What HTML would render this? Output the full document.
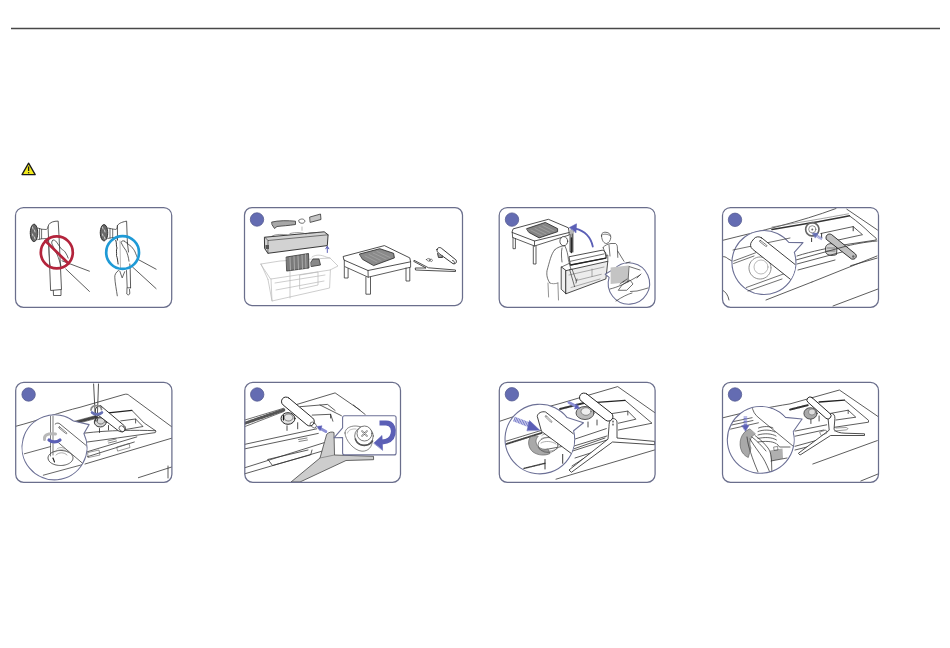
<!DOCTYPE html>
<html><head><meta charset="utf-8">
<style>
html,body{margin:0;padding:0;background:#fff;width:950px;height:648px;overflow:hidden;font-family:"Liberation Sans",sans-serif;}
svg{position:absolute;left:0;top:0;display:block}
</style></head>
<body>
<svg width="950" height="648" viewBox="0 0 950 648">
<defs>
<clipPath id="c1"><rect x="15.5" y="207.5" width="156.2" height="99.8" rx="8"/></clipPath>
<clipPath id="c2"><rect x="244.5" y="207.5" width="218" height="98" rx="7.5"/></clipPath>
<clipPath id="c3"><rect x="499.2" y="207.5" width="155.8" height="99.8" rx="8"/></clipPath>
<clipPath id="c4"><rect x="722.5" y="207.5" width="156" height="99.8" rx="8"/></clipPath>
<clipPath id="c5"><rect x="15.7" y="382.4" width="156.2" height="99.9" rx="8"/></clipPath>
<clipPath id="c6"><rect x="244.8" y="382.4" width="155.7" height="99.9" rx="8"/></clipPath>
<clipPath id="c7"><rect x="499.3" y="382.4" width="155.8" height="99.9" rx="8"/></clipPath>
<clipPath id="c8"><rect x="722.5" y="382.4" width="156" height="99.9" rx="8"/></clipPath>
<clipPath id="m4"><circle cx="764" cy="262.6" r="31.5"/></clipPath>
<clipPath id="m5"><circle cx="54.6" cy="447.5" r="32"/></clipPath>
<clipPath id="m7"><circle cx="539.9" cy="439.2" r="34.3"/></clipPath>
<clipPath id="m8"><circle cx="760.7" cy="439.9" r="32.9"/></clipPath>
</defs>
<!-- header rule -->
<line x1="11" y1="28.5" x2="940" y2="28.5" stroke="#484848" stroke-width="1.45"/>
<!-- warning icon -->
<g>
<path d="M28.6 163.2 L35.2 174.6 L22 174.6 Z" fill="#f2ea1c" stroke="#1a1a1a" stroke-width="1.3" stroke-linejoin="round"/>
<line x1="28.6" y1="166.5" x2="28.6" y2="171" stroke="#1a1a1a" stroke-width="1.3"/>
<line x1="28.6" y1="172.1" x2="28.6" y2="173.3" stroke="#1a1a1a" stroke-width="1.3"/>
</g>

<!-- ILLUSTRATIONS -->
<g id="ill" fill="none" stroke="#333" stroke-width="0.8" stroke-linecap="round" stroke-linejoin="round">
<!-- BOX 1 -->
<g clip-path="url(#c1)">
 <!-- left figure -->
 <path d="M48.1 226.5 C48.5 223.5 51 222 55 221.3 L58.2 221.1 L59 235.7 L61.5 289.5 L50.6 290.5 L48.6 240 Z" fill="#fff"/>
 <path d="M53.3 290.5 L53.5 295.5 L61 295.5 L61 290"/>
 <ellipse cx="34" cy="232.9" rx="3.7" ry="8.7" fill="#6a6a6a" stroke="#222" stroke-width="0.9" stroke-dasharray="1.3 0.5"/>
 <path d="M32.5 227 L33 229 M34.5 230 L35 232 M32.5 234 L33 236 M34.5 237 L35 239" stroke="#ddd" stroke-width="0.9"/>
 <path d="M37.7 228 L41.6 229.2 L41.6 238.8 L37.7 239.6 M39.6 228.5 L39.6 239.2" stroke-width="0.7"/>
 <path d="M41.6 229.2 L46 229.5 C47 229.5 48 228 48.1 226.8 M41.6 238.8 L46 238.5 C47 238.5 48 239.5 48.6 240.5" stroke-width="0.7"/>
 <path d="M48.1 238.8 C49 245 48.5 252 49.5 258 C49 262 50.5 265 50.5 266" stroke="#555" stroke-width="0.7"/>
 <path d="M52.8 240.2 C51.5 241 51.5 243 52 244 C54 248 55.5 252 57.4 255 C58.5 258 60 262 61 266 M52.8 240.2 C54 239.5 55.5 240.5 56.5 242 L61.3 248.9 C63 250 64.5 251 65.1 252 C66.5 254 67.5 256 68.2 258.1" stroke-width="0.75"/>
 <path d="M62 260.8 L89.4 271.2 M65.8 269 L89.4 291.4"/>
 <circle cx="56.8" cy="252.4" r="16" stroke="#b3243c" stroke-width="2.7"/>
 <line x1="45.5" y1="241" x2="68.5" y2="263.5" stroke="#b3243c" stroke-width="2.7"/>
 <!-- right figure -->
 <path d="M117.4 225.7 C118.5 223.5 121 222.3 126.6 221.1 L127.4 242.7"/>
 <path d="M117.4 225.7 L117.5 240"/>
 <ellipse cx="104" cy="232.7" rx="3.7" ry="8.1" fill="#6a6a6a" stroke="#222" stroke-width="0.9" stroke-dasharray="1.3 0.5"/>
 <path d="M102.5 227 L103 229 M104.5 230 L105 232 M102.5 234 L103 236 M104.5 237 L105 239" stroke="#ddd" stroke-width="0.9"/>
 <path d="M107.7 228 L112.7 229 L112.7 237.5 L107.7 238.5 M110 228.5 L110 238" stroke-width="0.7"/>
 <path d="M112.7 229 L116 229.5 C117 229.3 117.3 227 117.4 226 M112.7 237.5 L116 237.5 C117 238 117.3 239 117.5 240" stroke-width="0.7"/>
 <path d="M115.8 240.4 C117 243 115.8 245.5 117 248 C115.8 250.5 117 253 116.5 255.5 C117.5 258 117.8 262 118.1 264" stroke="#222" stroke-width="0.9"/>
 <path d="M120 241 L120.5 268" stroke="#888" stroke-width="0.6"/>
 <path d="M127.4 242.7 L128.5 252 M129.8 264 L130.2 269.3 L130.6 287.8"/>
 <path d="M124.3 241.1 C122.5 240 121 241.5 121.2 242.7 C122.5 245.5 124 248 125.9 250.4 C127.3 253 128.5 257 129 261.2 M124.3 241.1 L131.3 246.5 C133 248.5 134.5 250.5 135.1 252 C136 254.5 137 256.5 138 259.4" stroke-width="0.75"/>
 <path d="M138 259.4 L156.1 269.2 M132.5 267 L156.1 288.6"/>
 <path d="M118.5 270.5 C116 272 114.5 275 114.8 277.3 C115 283 116.5 290 117.3 295.8 M119.8 271.1 L122.2 277.9 L124.7 271.7" stroke-width="0.75"/>
 <path d="M126.5 270.5 L127.2 287.8 L130.6 287.8 M127 288 L126.8 294 C128 295.5 129.8 295 129.8 293 L129.5 289.5" stroke-width="0.75"/>
 <circle cx="122.6" cy="252.5" r="16.4" stroke="#1f9ad6" stroke-width="2.7"/>
</g>
<!-- BOX 2 -->
<g clip-path="url(#c2)">
 <!-- carton (light) -->
 <g stroke="#b8b8b8" stroke-width="0.7">
  <path d="M261 264 L280 261 L330 258 L338 266 L330 270 L271 279 Z"/>
  <path d="M261 264 L268 279.5 M271 279 L272 301 L329.6 288 L330.4 270"/>
  <path d="M268 279.5 L272 301"/>
  <path d="M275 283 L325 275 M276 290 L324 281 M290 270 L290 298 M300 275 L318 272 L318 285 L300 289 Z"/>
  <path d="M312 257 C316 254 322 255 326 257 L330 258"/>
 </g>
 <!-- dark panels in carton -->
 <path d="M286.5 257 L308.5 253.5 L309 268 L287 271 Z" fill="#7a7a7a" stroke="#333"/>
 <path d="M290 257.5 L290.5 270 M294 256.5 L294.5 269.8 M298 256 L298.5 269.3 M302 255 L302.5 268.8 M305.5 254.5 L306 268.5" stroke="#ccc" stroke-width="0.6"/>
 <path d="M311 262 L313 259 L319 259 L320.5 265 L311.5 266.5 Z" fill="#888" stroke="#333"/>
 <!-- foam block -->
 <path d="M264.8 237.2 L324.2 231.8 L328.1 234.8 L327.3 245.6 L267.9 253.3 L264.8 248.7 Z" fill="#d2d2d2" stroke="#222" stroke-width="0.9"/>
 <path d="M264.8 237.2 L268 240.5 L328.1 234.8 M268 240.5 L267.9 253.3" stroke="#444" stroke-width="0.7"/>
 <path d="M272 236 C276 234 282 234 287 235 M290 233.5 C296 232 303 232.5 306 234 M309 233 L318 232.5" stroke="#555" stroke-width="0.6"/>
 <rect x="265.5" y="245" width="3.5" height="4" fill="#555" stroke="none"/>
 <!-- parts -->
 <path d="M272 222 C278 220.5 288 220.3 295.5 221.2 L295.5 224.5 C289 225.5 282 226 277 226.5 L274.5 228.5 L272.2 225 Z" fill="#a8a8a8" stroke="#333"/>
 <path d="M299 220 C301 218.5 304 218.5 305 221 C304.5 223.5 301.5 224 299.5 222.5 Z" fill="#fff" stroke="#333" stroke-width="0.7"/>
 <path d="M310 217 L320.5 214 L321 219.5 L310.5 222.3 Z" fill="#c4c4c4" stroke="#333"/>
 <path d="M302 227 L302 230.3" stroke="#aaa" stroke-width="0.8"/>
 <path d="M327.3 247 L327.3 252.5" stroke="#5b5fb6" stroke-width="1"/>
 <path d="M325.8 248.8 L327.3 246.2 L328.8 248.8" stroke="#5b5fb6" stroke-width="1"/>
 <!-- table -->
 <path d="M343.5 256.4 L384.4 245.6 L409.8 257.9 L410.6 261.8 L368 270.5 L344.3 260.2 Z" fill="#fff" stroke="#222" stroke-width="0.8"/>
 <path d="M344.3 260.2 L344.3 266.4 L368.2 277.2 L410.6 267.2 L410.6 261.8 M368 270.5 L368.2 277.2"/>
 <path d="M344.3 267 L344.3 278 L348.1 278 L348.1 268.5 M365.9 277 L365.9 294.2 L370.5 294.2 L370.5 277 M406 268 L406 281 L409.8 281 L409.8 267.5"/>
 <path d="M359.7 254 L379.8 248.7 L393.6 253.3 L394.4 257.9 L373.6 265.6 L362.8 259.5 Z" fill="#8a8a8a" stroke="#222" stroke-width="0.8"/>
 <path d="M365 256 L377 262 M369 254.5 L381 260.5 M373 253 L386 259 M377 251.5 L390 257.5" stroke="#aaa" stroke-width="0.7"/>
 <!-- stand parts -->
 <path d="M437 249.5 C437.5 247.3 440 247 441.5 248.3 L455.8 259.8 C457.3 261.5 456 264.5 453 263.7 L439 253.5 C437.5 252.5 436.7 251 437 249.5 Z" fill="#fff" stroke="#222" stroke-width="0.9"/>
 <path d="M452.5 260.5 C453.8 260.5 455 262 454.3 263.2" stroke="#222"/>
 <path d="M437.5 253.5 L438.5 257.5 L442.5 257.5 L442 255.5" fill="#999" stroke="#222"/>
 <path d="M426.5 259.5 C428 257.8 430 258.2 430.5 260 C429.8 261.8 427.7 261.8 426.5 259.5 Z M429.5 260 C430.5 258.5 432.3 259 432.5 260.5 C432 262 430.5 262 429.5 260 Z" stroke="#333" stroke-width="0.6"/>
 <path d="M414.5 260.5 L428.5 267.8 L455.5 270 L455.5 271.5 L428 270.5 L415.5 270 L415.2 268 L426 268 L414 261.5 Z" fill="#fff" stroke="#222" stroke-width="0.8"/>
</g>
<!-- BOX 3 -->
<g clip-path="url(#c3)">
 <!-- table -->
 <path d="M513.5 228.8 L548.4 219.3 L568.4 227.8 L569.2 232.5 L534.5 241 L512.3 232.5 Z" fill="#fff" stroke="#222"/>
 <path d="M512.3 232.5 L512.6 237.5 L534.5 246 L569.2 235 L569.2 232.5 M534.5 241 L534.5 246"/>
 <path d="M513 237.5 L513 248.7 L515.4 248.7 L515.4 238.5 M533.3 246 L533.3 264 L536 264 L536 246 M570 234.5 L570 251.8 L572.3 251.8 L572.3 234"/>
 <path d="M526.8 228.6 L545.3 222.4 L557.6 228.6 L557.6 231.7 L539.1 237.9 L529.1 232.5 Z" fill="#858585" stroke="#222"/>
 <path d="M531 230 L542 235.5 M535 228.5 L546 234 M539 227 L550 232.5 M543 225.5 L554 231" stroke="#aaa" stroke-width="0.7"/>
 <!-- carried monitor -->
 <path d="M561.5 267 L566.1 270.6 L566.1 293.7 L561.5 289.5 Z" fill="#f0f0f0" stroke="#222" stroke-width="0.8"/>
 <path d="M566.1 270.6 L607.8 261.3 L605.9 278.9 L566.1 293.7 Z" fill="#ececec" stroke="#222" stroke-width="0.8"/>
 <path d="M561.5 267 L569 263.5 L607.8 255 L607.8 261.3" stroke-width="0.7"/>
 <path d="M569.4 256.7 L602.2 250.2 C604.5 250.5 606 252.5 605.9 254 L605.9 258.1 L570.7 265 Z" fill="#fff" stroke="#222" stroke-width="0.8"/>
 <path d="M570.3 261.3 L604.1 253.9" stroke-width="0.7"/>
 <path d="M570.7 265 L605.9 258.1" stroke="#222" stroke-width="1.3"/>
 <path d="M575.4 280.7 L601.3 274.3 M571 287.5 L600 279 M569 275 L604 267 M592 269 L592 276.5" stroke="#777" stroke-width="0.6"/>
 <path d="M576 283 L577 279" stroke="#444" stroke-width="0.8"/>
 <!-- person left (back) -->
 <ellipse cx="563.8" cy="241.2" rx="3.9" ry="4.6" fill="#fff"/>
 <path d="M554.8 249.7 C551 254 549.5 262 547 270.7 C546.5 275 547 279 549.9 283 M554.8 249.7 C557 247.5 561 246.2 564.7 245.5 C567 250 568 255 568.4 259.6 L570.9 269.4 M562 248 C561 252 561.5 258 562 262" stroke-width="0.7"/>
 <path d="M548 283 L548.6 297 M557.9 283 L558.5 300 M549.9 283 C552 284 555 284 557.9 283" stroke-width="0.7" stroke="#666"/>
 <path d="M569.6 269.4 L574.6 286.7 M572 269 L576 280" stroke-width="0.7"/>
 <path d="M571.5 238 L571.5 252.5" stroke="#222" stroke-width="1.5"/>
 <!-- person right (front) -->
 <path d="M601.5 236 C601 233 603.5 232 606 232.3 C609 232.5 611 234.5 610.8 237.5 C610.5 240.5 609 243 606.5 243.5 C604 243.5 602 241 601.5 236 Z" fill="#fff" stroke-width="0.7"/>
 <path d="M602 235 C604 233.5 608 234 610.5 236" stroke-width="0.6"/>
 <path d="M603.1 247.4 C605 245 608 244 611 243.5 L615.5 243.5 C617 244.5 617.4 246 617.4 248.1 L617.8 257.4 M617.8 251.2 L624 261.3 M603.1 247.4 L606.6 257.4 M609 245 L610 256" stroke-width="0.7"/>
 <!-- blue arrow -->
 <path d="M592.8 246.5 C591 238 585 231 575.5 228.6" stroke="#5b5fb6" stroke-width="1.8"/>
 <path d="M569.5 227.5 L576.5 223.8 L576 232.5 Z" fill="#5b5fb6" stroke="#5b5fb6" stroke-width="0.6"/>
 <path d="M571 230 L571 252 M573 231 L573 252" stroke="#333" stroke-width="0.7"/>
 <!-- magnifier -->
 <path d="M614.5 268.6 A20.7 20.7 0 1 1 609.1 277.4 L605.2 274.3 Z" fill="#fff" stroke="#6c7096" stroke-width="1.1"/>
 <path d="M610.6 267.5 L628.5 265.5 L628.1 282.3 L610.6 284 Z" fill="#c4c4c4" stroke="none"/>
 <path d="M629 266.5 L640 270 M626 263 L630 262 M629 267 L628 282 M610 289 C618 287 625 284 640 275 M616 301 C622 297 628 294 632 293 M618.5 290 L622 285 L630 280 L633 284 L627 290 Z M620 284 L624 281 M623 282 L627 279 M630.5 291.5 L637 291 C641 290 645 289 648 288 M637 278 L641 274" stroke="#333" stroke-width="0.7"/>
</g>
<!-- BOX 4 -->
<g clip-path="url(#c4)">
 <!-- monitor outer -->
 <path d="M722 240.5 C760 231 800 222 836 208.5"/>
 <path d="M846.8 209.2 L877.5 230"/>
 <!-- inner panel double line -->
 <path d="M772 229.5 L800 224.7 C820 221.5 835 218.5 849.4 215.8" stroke="#333" stroke-width="1.5"/>
 <path d="M772 227 L800 222.3 C820 219 835 216.2 848.5 213.8" stroke="#666" stroke-width="0.6"/>
 <path d="M722 257 C724 256 726 257 727.8 258.6 L733.6 262"/>
 <path d="M849.4 215.8 C858 222 865 228 870 233.1 L876.2 238.3 L876.2 240 L843 245 C830 248 812 251 797 256"/>
 <!-- mount pocket -->
 <path d="M820.8 233.5 L853.2 226.6 L862.5 234.7 L836 240.5"/>
 <path d="M853.2 226.6 L853.2 230.8 M821.6 233.5 L821.6 237.5 M811.6 238.2 L811.6 241.6" stroke="#222" stroke-width="0.9"/>
 <!-- mount circle -->
 <circle cx="812.3" cy="229.3" r="6.6" stroke="#666" stroke-width="1.7" stroke-dasharray="1 0.55"/>
 <circle cx="812.3" cy="229.3" r="3.6" stroke="#666" stroke-width="0.7"/>
 <circle cx="812.3" cy="229.5" r="1" fill="#666" stroke="none"/>
 <!-- blue arrow -->
 <path d="M822 239 L815.5 235" stroke="#8d92d0" stroke-width="3" stroke-dasharray="0.9 0.4" stroke-linecap="butt"/>
 <path d="M812.3 233.3 L818 233.1 L815.3 237.8 Z" fill="#6670b4" stroke="#6670b4" stroke-width="0.5"/>
 <!-- stand mount base -->
 <path d="M825.5 247.5 C826 244 830 243 833 244 L837 248 L836.5 254.5 C833 256 828 256 826 253 Z" fill="#d0d0d0" stroke="#222"/><path d="M827 248 L835 248 M827 251 L835 251" stroke="#444" stroke-width="0.6"/>
 <!-- gray neck -->
 <path d="M826 237.5 C826 234.5 829 233.3 831.5 234.5 L855.5 254 C857.5 256.5 855.5 260 851.5 259 L826.5 239.5 Z" fill="#c0c0c0" stroke="#222" stroke-width="0.9"/>
 <circle cx="853.3" cy="256.5" r="1.2" fill="#666" stroke="none"/>
 <!-- lower monitor lines -->
 <path d="M796 260 L843 247 C852 244.5 865 242 877 241 M797 264 L842 252 M798 270 L835 260 M812 282 L877 256 M850.6 265.7 L877.1 258.1 M833 306 L878 289 M766 300 L812 282"/>
 <!-- magnifier -->
 <path d="M794.3 252.4 A32.0 32.0 0 1 1 788.9 242.5 L803.0 242.6 Z" fill="#fff" stroke="#6c7096" stroke-width="1.1"/>
 <g stroke-width="0.7">
  <path d="M733 250 L790 238 M733.6 261 L755.6 252.8 M733.6 263.5 L754 256 M746.3 287.5 L784.5 273.6 M748 291 L782 279"/>
  <circle cx="760" cy="268" r="11" stroke="#555" stroke-dasharray="1.2 0.9"/>
  <circle cx="761" cy="267" r="7" stroke="#777" stroke-width="0.5"/>
  <g clip-path="url(#m4)"><rect x="752" y="235.4" width="60" height="14.5" rx="5.5" transform="rotate(38.5 756 242.6)" fill="#fff" stroke="#222" stroke-width="0.8"/></g>
  <path d="M760.5 240.5 L766.5 245 C767.5 246 766.5 247 765.5 246.2 L759.8 241.8 C759 241 759.7 240 760.5 240.5 Z" stroke="#333" stroke-width="0.6"/>
 </g>
 <path d="M722 289.8 C726 292 728 295 729 300"/>
</g>
</g>

<g fill="none" stroke="#333" stroke-width="0.8" stroke-linecap="round" stroke-linejoin="round">
<!-- BOX 5 -->
<g clip-path="url(#c5)">
 <!-- outer monitor -->
 <path d="M15 426.5 C40 420 60 412 80 407.3 L124 394.5 C126.5 393.8 128 394.2 129.4 395.6 L172 427"/>
 <!-- hatched band -->
 <path d="M70 422.5 L96 415.5 M70 425.5 L96 418.5" stroke-width="0.6"/>
 <path d="M70 424 L96 417" stroke="#444" stroke-width="2.6" stroke-dasharray="0.9 1"/>
 <!-- panel -->
 <path d="M108.4 412.8 L131.9 410.4" stroke="#222" stroke-width="1.3"/>
 <path d="M131.9 410.4 L144.2 423 L156 431 L155.3 432.6 C130 436 105 440 80 443"/>
 <path d="M83.7 433.2 C110 430 135 430 155.3 430.7"/>
 <path d="M120.7 420.9 L135.6 419 L143 426.5 L125.5 429.5 M135.6 419 L135.6 423"/>
 <path d="M87.4 451.7 L136.8 436.9 M87.4 456.7 L134.3 442 M85 464 L172 438.1 M138.4 477.7 L172 466.9 M168 466 L168 478"/>
 <path d="M88 452.5 L99 450 L100 455 L88.5 457.5 Z M117 447 L129 443.5 L130 447.5 L118 451 Z" stroke="#555" stroke-width="0.6"/>
 <path d="M108 441 L116 439 M108.5 443 L116.5 441" stroke-width="0.6"/>
 <path d="M99.5 428.5 L99.5 432.5 M108.5 425.5 L108.5 430" stroke="#222"/>
 <!-- mount -->
 <ellipse cx="100.3" cy="422" rx="6" ry="5" fill="#d8d8d8" stroke="#222" stroke-width="0.9"/>
 <ellipse cx="100.8" cy="421" rx="3.8" ry="3" stroke="#444" stroke-width="0.6" stroke-dasharray="0.9 0.5"/>
 <!-- neck -->
 <path d="M101 406 L124.4 425.8 C126.5 428 125 432.5 121 431.8 L118.3 430.7 L96 413.5 C94.5 411.5 95.5 408 97 406.8 C98.5 405.5 100 405.3 101 406 Z" fill="#fff" stroke="#222" stroke-width="0.9"/>
 <ellipse cx="122" cy="428.7" rx="2.5" ry="3.3" transform="rotate(-45 122 428.7)" stroke="#333" stroke-width="0.7"/>
 <!-- screwdriver -->
 <path d="M93.6 384 L95.5 421 M98.5 384 L97.2 421" stroke="#333" stroke-width="0.85"/>
 <path d="M91 410 C91 406.5 94 405.5 96.5 405.6 C99.5 405.6 101.5 407 101.5 409.5" stroke="#8a8a8a" stroke-width="1.8"/>
 <path d="M92 412.5 C94.5 415 99.5 415 102 412.5" stroke="#6670b4" stroke-width="2.6"/>
 <!-- magnifier -->
 <path d="M83.9 433.5 A32.5 32.5 0 1 1 73.5 421.0 L89.1 424.6 Z" fill="#fff" stroke="#6c7096" stroke-width="1.1"/>
 <g clip-path="url(#m5)" stroke-width="0.75">
  <path d="M24.3 453.8 L50.5 446.6 M43.3 475.2 L87.3 463.3"/>
  <path d="M55.2 424 C57 422.5 59 423 60 424 L88 447 M58.8 443 L84 464.5"/>
  <path d="M59.8 427 L66.5 432.5 C67.4 433.4 66.5 434.2 65.6 433.4 L59 428 C58.2 427.3 59 426.3 59.8 427 Z" stroke="#333" stroke-width="0.6"/>
  <ellipse cx="60.5" cy="458" rx="12.5" ry="7.5" fill="#fff" stroke="#333" stroke-width="0.8" stroke-dasharray="1.5 0.8"/>
  <path d="M55 452 C58 449 64 449 68 452 M56 455 C59 452 64 452 67 455 M57 449 C59 447 63 447 65 449" stroke="#777" stroke-width="0.6"/>
  <path d="M50.5 416 L50.5 456 M53 416 L53 455" stroke="#444" stroke-width="0.7"/>
  <path d="M44.5 439.5 C44 436 46.5 434.5 49 434 C52 433.6 54 433.5 55.5 434" stroke="#b8b8b8" stroke-width="3"/>
  <path d="M49 440 C52 442.5 57 442.5 60 440" stroke="#5b5fb6" stroke-width="3.2"/>
  <path d="M53 458 L54.5 462" stroke="#222" stroke-width="1.2"/>
 </g>
</g>
</g>

<g fill="none" stroke="#333" stroke-width="0.8" stroke-linecap="round" stroke-linejoin="round">
<!-- BOX 6 -->
<g clip-path="url(#c6)">
 <!-- monitor lines -->
 <path d="M297 404.4 L335.1 392.9 L360 410 M300 406.7 L327.5 404.4 L335.1 410.5 M312.2 415.1 L330.6 414.3 L332.9 421.2"/>
 <path d="M244 420.3 L283.5 408.3 M244 426.9 L284.1 411.4" stroke="#333" stroke-width="0.7"/>
 <path d="M244 423.6 L283.8 409.9" stroke="#555" stroke-width="3" stroke-dasharray="0.8 1.2"/>
 <path d="M244 444.5 L316.8 428.8 M244 449 L318.3 433.4 M244 468 L324.4 442.6 M244 474 L326 450"/>
 <path d="M267.9 459.4 L272.5 465.5 L310.7 454.8 L312 450 M268 459.4 L308 450"/>
 <path d="M298.5 439.5 L307 438 M299 441.5 L307.5 440" stroke-width="0.6"/>
 <path d="M287 425.8 L287 430.4 M297.7 422.7 L297.7 428.8" stroke="#222"/>
 <path d="M330.6 414.3 L330.6 418" stroke="#222"/>
 <!-- mount -->
 <ellipse cx="288" cy="418.5" rx="7" ry="5.8" fill="#e4e4e4" stroke="#222" stroke-width="1"/>
 <ellipse cx="288.5" cy="417.5" rx="4.5" ry="3.5" stroke="#555" stroke-width="0.7" stroke-dasharray="1 0.6"/>
 <path d="M283.5 415.5 L283.5 420" stroke="#111" stroke-width="1.2"/>
 <!-- neck -->
 <rect x="281.5" y="397" width="40" height="9" rx="4.5" transform="rotate(40 286 401.5)" fill="#fff" stroke="#222" stroke-width="0.9"/>
 <ellipse cx="313.3" cy="425" rx="2.3" ry="3.6" transform="rotate(-50 313.3 425)" stroke="#333" stroke-width="0.6"/>
 <!-- blue arrow -->
 <path d="M325.8 431.5 L319.5 428" stroke="#8c8fd4" stroke-width="3"/>
 <path d="M317 426.5 L322 425.8 L320.2 430.5 Z" fill="#5b5fb6" stroke="#5b5fb6" stroke-width="0.5"/>
 <!-- base -->
 <path d="M327 434 C329 432 332 431.5 334 432.5 L334.5 455 L373.5 456.3 L373.6 459.7 L346 460.5 L300 482 L291 482 L320 458 L324.5 442 Z" fill="#cdcdcd" stroke="#444" stroke-width="0.8"/>
 <path d="M320 458 L334.5 455" stroke="#666" stroke-width="0.6"/>
 <path d="M320 405 L341.4 415.7 M353.3 405 L365.2 414.5"/>
 <!-- callout -->
 <path d="M344.6 415.7 L394.1 415.7 Q396.1 415.7 396.1 417.7 L396.1 452.9 Q396.1 454.9 394.1 454.9 L344.6 454.9 Q342.6 454.9 342.6 452.9 L342.6 437.6 L334 437.8 L342.6 427.8 L342.6 417.7 Q342.6 415.7 344.6 415.7 Z" fill="#fff" stroke="#6c7096" stroke-width="1.1"/>
 <!-- screw -->
 <path d="M345 433 C345 428.5 350 425.8 356 426 C364 426.5 372 432 372.3 440 C372.5 447 368 451.5 362 451.2 C354 450.8 345 440 345 433 Z" stroke="#555" stroke-width="0.7"/>
 <path d="M347.5 433 C348 430 352 428.5 356 429" stroke="#777" stroke-width="0.5"/>
 <circle cx="364" cy="436" r="9.3" fill="#fff" stroke="#444" stroke-width="0.7"/>
 <path d="M355.5 439 C357 446 368 448 372.5 441" stroke="#555" stroke-width="1.6" stroke-dasharray="0.8 0.7"/>
 <circle cx="364.5" cy="433.5" r="7.5" fill="#fff" stroke="#444" stroke-width="0.7"/>
 <path d="M362 431 L367 436 M367 431 L362 436" stroke="#666" stroke-width="1.6"/>
 <path d="M362 431 L367 436 M367 431 L362 436" stroke="#fff" stroke-width="0.6"/>
 <!-- blue curved arrow -->
 <path d="M379.5 423 L386 423 C393 423 394 430 393 434 C392 439 388 441.5 382 442" stroke="#5b5fb6" stroke-width="5" stroke-linecap="butt"/>
 <path d="M374 443 L382 435.5 L382.6 450 Z" fill="#5b5fb6" stroke="#5b5fb6" stroke-width="0.6"/>
</g>
</g>

<g fill="none" stroke="#333" stroke-width="0.8" stroke-linecap="round" stroke-linejoin="round">
<!-- BOX 7 -->
<g clip-path="url(#c7)">
 <path d="M499 421.5 C520 414 540 409 560 403.5 L617.7 386.6 L656 413.5"/>
 <path d="M560 409 L590 401.5" stroke="#333" stroke-width="2" stroke-dasharray="0.7 0.6"/>
 <path d="M590 403.5 L597 402.4 L625.1 400.4" stroke="#222" stroke-width="1.2"/>
 <path d="M625.1 400.4 L652 423.2 L618.4 430"/>
 <path d="M610.4 413.8 L627.8 411.1 L635.9 419.2 L618.4 423.2 M627.8 411.1 L627.8 415"/>
 <path d="M574 439.4 L606.3 428.6 M574 448.8 L605 438 M572 466 L600 448 C602 447 603 448 602 449.5 L574 468"/>
 <path d="M571.4 446.8 L606.9 436 M571.4 451.4 L607 440 M556 479.2 L654.8 449.9 M575 458 L600 450"/>
 <path d="M588 422 L588 427 M597 420 L597 425" stroke="#222"/>
 <!-- base Y -->
 <path d="M609 426 C609 421 611 418.5 613 418.5 C615.5 418.5 617 420.5 617 422 L617 438 L654.7 441.4 L654.7 444.7 L612.5 442 L571.4 472.3 L569 470 L607.7 439.4 Z" fill="#fff" stroke="#222" stroke-width="0.8"/>
 <path d="M613 421 L613 422 M613 424 L613 425" stroke="#222" stroke-width="1.1"/>
 <!-- mount -->
 <ellipse cx="585" cy="413" rx="9" ry="6.5" fill="#bbb" stroke="#333"/>
 <ellipse cx="586" cy="411.5" rx="5" ry="3.8" fill="#eee" stroke="#555" stroke-width="0.6"/>
 <!-- neck -->
 <rect x="579.5" y="393" width="40" height="9" rx="4.5" transform="rotate(38 584 397.5)" fill="#fff" stroke="#222" stroke-width="0.9"/>
 <!-- blue arrow -->
 <path d="M569 402.5 L575.5 406" stroke="#8c8fd4" stroke-width="3"/>
 <path d="M579.5 408.3 L574.5 409 L576.3 404 Z" fill="#5b5fb6" stroke="#5b5fb6" stroke-width="0.5"/>
 <!-- magnifier -->
 <path d="M573.6 430.7 A34.8 34.8 0 1 1 567.2 417.6 L583.5 422.8 Z" fill="#fff" stroke="#6c7096" stroke-width="1.1"/>
 <g clip-path="url(#m7)" stroke-width="0.75">
  <path d="M500 446 L541.8 432.9" stroke="#444" stroke-width="1.8" stroke-dasharray="0.7 0.6"/>
  <path d="M500 443 L541 430.5"/>
  <path d="M501.3 446.8 C501 448 501.5 449.5 502.5 451 L524 476"/>
  <path d="M524 468.4 L545 463.3" stroke="#444" stroke-width="1.4" stroke-dasharray="0.7 0.6"/>
  <path d="M545 459.5 L545 469 M562.7 454.4 L562.7 463.3" stroke="#222" stroke-width="0.9"/>
  <path d="M535 451.5 L570 445"/>
  <!-- washer -->
  <path d="M531 436.5 C527 440 528 448 533 452 C538 455.5 545 456 550 453.5 L548 449 C543 450 538 448 536.5 444 C535.5 441 536 438.5 538 436.5 Z" fill="#a9a9a9" stroke="#555" stroke-width="0.6"/>
  <ellipse cx="548" cy="445" rx="10" ry="7.5" stroke="#555" stroke-width="0.7"/>
  <path d="M541.8 435.5 C544 433 552 433 555 436 M541 439 C544 436.5 552 436.5 556 440 M541 443 C545 440.5 552 441 556 444" stroke="#777" stroke-width="0.6"/>
  <path d="M538.5 448 C542 452 552 452.5 558 448" stroke="#666" stroke-width="0.6" stroke-dasharray="1 0.7"/>
  <!-- neck -->
  <path d="M537.3 416 C537.5 413 542 411 545.6 412 L580 439 L572 454 L541.8 431.6 Z" fill="#fff" stroke="#222" stroke-width="0.85"/>
  <path d="M546.5 416 L551.5 421 C552.5 422 551.5 423 550.5 422 L545.5 417 C544.8 416 545.7 415.2 546.5 416 Z" stroke="#444" stroke-width="0.6"/>
  <!-- blue arrow -->
  <path d="M514 419 L531 425.5" stroke="#7a7ecb" stroke-width="5" stroke-dasharray="1.1 0.5" stroke-linecap="butt"/>
  <path d="M539.5 430 L529.5 420.5 L527 430.5 Z" fill="#5b5fb6" stroke="#5b5fb6" stroke-width="0.5"/>
 </g>
</g>
</g>

<g fill="none" stroke="#333" stroke-width="0.8" stroke-linecap="round" stroke-linejoin="round">
<!-- BOX 8 -->
<g clip-path="url(#c8)">
 <path d="M722 418 C750 411 770 407 790 403.9 L839.4 390 L878 416.5"/>
 <path d="M790 409.6 L807.7 405.2" stroke="#333" stroke-width="2" stroke-dasharray="0.7 0.6"/>
 <path d="M819.1 402 L844.4 400.1" stroke="#222" stroke-width="1.3"/>
 <path d="M844.4 400.1 L868.5 420.3 L868.5 422.2 L834.3 427.3"/>
 <path d="M830.5 413.4 L848.2 410.2 L855.8 417.2 L836 420 M848.2 410.2 L848.2 413.5"/>
 <path d="M795 431.1 L826.7 424.8 M795 436.2 L824 430 M795 446.3 L818 440 M795 450 L815 445 M812.8 464 L877.3 440.6 M860.8 481 L878 474"/>
 <path d="M810.9 419 L810.9 423.5 M819.1 416 L819.1 421" stroke="#222"/>
 <!-- base -->
 <path d="M828.1 418.6 C828 415 830 413.5 831.5 413.5 C833.5 413.5 835 415 834.9 418.6 L834 429.6 C836 432 840 433 845 433.2 L864.5 433.8 L864.5 435.5 L830.6 435.5 L800.1 455 L798.4 453.3 L828.9 430.4 Z" fill="#fff" stroke="#222" stroke-width="0.8"/>
 <path d="M820 432 L826 430 L827 433 L821.5 435.5 Z M834.5 431 L845 430 C848 430 849 428 846 427.5 L836 428" stroke="#555" stroke-width="0.6"/>
 <!-- mount -->
 <ellipse cx="810.5" cy="413.4" rx="6.6" ry="5.7" fill="#a8a8a8" stroke="#333"/>
 <ellipse cx="812" cy="412" rx="3.5" ry="3" fill="#ddd" stroke="#555" stroke-width="0.5"/>
 <!-- neck -->
 <rect x="807" y="396.9" width="30" height="6.2" rx="3" transform="rotate(41.5 810 400)" fill="#fff" stroke="#222" stroke-width="0.9"/>
 <!-- magnifier -->
 <path d="M793.1 431.7 A33.4 33.4 0 1 1 785.4 417.4 L802.1 419.0 Z" fill="#fff" stroke="#6c7096" stroke-width="1.1"/>
 <g clip-path="url(#m8)" stroke-width="0.75">
  <path d="M724.3 423.4 L752.1 417.7 M724.5 426.5 L753 420.5 M730.6 429.1 L758.4 422.8"/>
  <!-- neck region -->
  <path d="M752 406 C752.5 411 755 415 759 418 L793.9 446.8 L800 430 L790 405 Z" fill="#fff" stroke="none"/>
  <path d="M752 406 C752.5 411 755 415 759 418 L793.9 446.8"/>
  <!-- threads -->
  <path d="M758.5 428 C763 426 770 426 773 428 M758 431.5 C763 429.5 771 429.5 775 432 M758 435 C764 433 772 433.5 776 436 M758 438.5 C764 437 772 437 776.5 440 M758 442 C765 441 772 441 776 443.5"/>
  <!-- gray crescent -->
  <path d="M749.5 429 C741 432 737.5 443 742 452 C744 455 746 456.5 748.3 457.5 L751 448 C749 444 749.5 437 755 434 Z" fill="#a9a9a9" stroke="#555" stroke-width="0.6"/>
  <!-- gray block -->
  <path d="M769.8 450.6 L782.5 448.5 L783 458.5 L771 461 Z" fill="#b0b0b0" stroke="none"/>
  <path d="M774 447 L777.5 446.5 L778 450 L774.5 450.5 Z" stroke="#444" stroke-width="0.6"/>
  <path d="M777 444 L779.5 447 L790 447 M771 461 L787 458"/>
  <!-- hand -->
  <path d="M747 437 C748 446 752 458 758 472 M750 439 C754 446 759 452 763 458 C766 463 768 468 771 475 M752 437 C757 441 762 446 766 451 M755 435.5 C760 439 765 444 768 448 C770 451 771 454 771.5 460 L772 478"/>
  <!-- blue arrow down -->
  <path d="M745.4 416.5 L745.4 426" stroke="#7a7ecb" stroke-width="3.6" stroke-dasharray="1 0.5" stroke-linecap="butt"/>
  <path d="M742 425.5 L749 425.5 L745.5 431 Z" fill="#5b5fb6" stroke="#5b5fb6" stroke-width="0.5"/>
 </g>
</g>
</g>

<!-- boxes -->
<g fill="none" stroke="#6a6e8c" stroke-width="1.25">
<rect x="15.5" y="207.5" width="156.2" height="99.8" rx="8"/>
<rect x="244.5" y="207.5" width="218" height="98" rx="7.5"/>
<rect x="499.2" y="207.5" width="155.8" height="99.8" rx="8"/>
<rect x="722.5" y="207.5" width="156" height="99.8" rx="8"/>
<rect x="15.7" y="382.4" width="156.2" height="99.9" rx="8"/>
<rect x="244.8" y="382.4" width="155.7" height="99.9" rx="8"/>
<rect x="499.3" y="382.4" width="155.8" height="99.9" rx="8"/>
<rect x="722.5" y="382.4" width="156" height="99.9" rx="8"/>
</g>
<!-- step circles -->
<g fill="#646cb2" stroke="#575d92" stroke-width="0.8">
<circle cx="257" cy="219.5" r="6.7"/>
<circle cx="512" cy="219.6" r="6.7"/>
<circle cx="735" cy="219.8" r="6.7"/>
<circle cx="28.6" cy="394.5" r="6.7"/>
<circle cx="257.2" cy="394.5" r="6.7"/>
<circle cx="511.9" cy="394.3" r="6.7"/>
<circle cx="735" cy="394.5" r="6.7"/>
</g>
</svg>
</body></html>
